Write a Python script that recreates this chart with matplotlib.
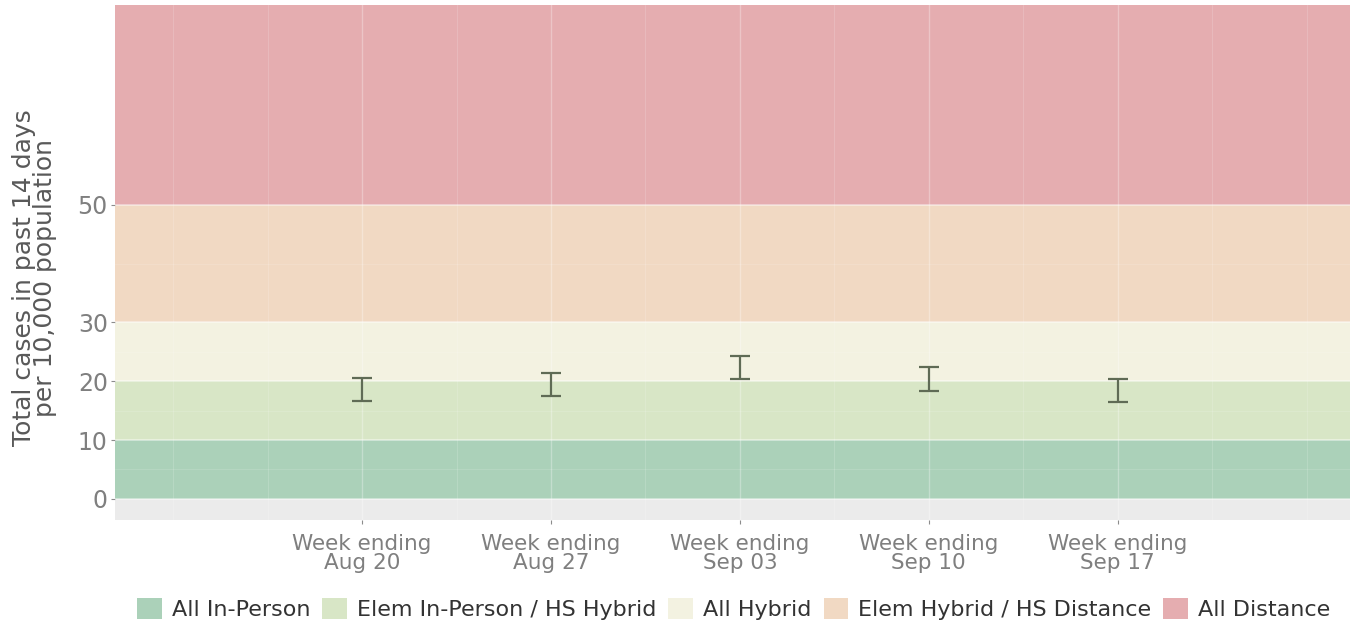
import matplotlib as mpl
import matplotlib.pyplot as plt
from matplotlib.patches import Patch
import numpy as np

mpl.rcParams["font.family"] = ["DejaVu Sans"]

# weeks and the error-bar range of cases per 10,000
weeks = ["Week ending\nAug 20", "Week ending\nAug 27", "Week ending\nSep 03",
         "Week ending\nSep 10", "Week ending\nSep 17"]
lower = [16.7, 17.5, 20.4, 18.4, 16.5]
upper = [20.6, 21.4, 24.3, 22.4, 20.4]

# reopening bands
band_names = ["All In-Person", "Elem In-Person / HS Hybrid", "All Hybrid",
              "Elem Hybrid / HS Distance", "All Distance"]
band_lo = [0, 10, 20, 30, 50]
band_hi = [10, 20, 30, 50, 84]
band_colors = ["#abd1b9", "#d8e6c6", "#f3f2e1", "#f1d9c3", "#e5adb0"]

yticks = [0, 10, 20, 30, 50]

fig = plt.figure(figsize=(13.5, 6.4), dpi=100)
ax = fig.add_axes([0.085, 0.1875, 0.915, 0.805])
ax.set_facecolor("#ebebeb")

x = np.arange(1, len(weeks) + 1)
for lo, hi, c in zip(band_lo, band_hi, band_colors):
    ax.axhspan(lo, hi, color=c, lw=0, zorder=1)

# ggplot-like grid showing faintly through the bands
for v in np.arange(0, 6.5, 0.5):
    major = float(v).is_integer() and 1 <= v <= 5
    ax.axvline(v, color="white", lw=1.0 if major else 0.6, alpha=0.3 if major else 0.18, zorder=2)
for v in yticks:
    ax.axhline(v, color="white", lw=1.2, alpha=0.5, zorder=2)
for v in [5, 15, 25, 40]:
    ax.axhline(v, color="white", lw=0.6, alpha=0.15, zorder=2)

mid = (np.array(lower) + np.array(upper)) / 2
err = (np.array(upper) - np.array(lower)) / 2
ax.errorbar(x, mid, yerr=err, fmt="none", ecolor="#5f6b55", elinewidth=1.6,
            capsize=7, capthick=1.6, zorder=3)

ax.set_xlim(-0.31, 6.23)
ax.set_ylim(-3.6, 84)
ax.set_xticks(x)
ax.set_xticklabels(weeks, fontsize=15.5, color="#7f7f7f", linespacing=0.95)
ax.set_yticks(yticks)
ax.set_yticklabels([str(t) for t in yticks], fontsize=17, color="#7f7f7f")
ax.tick_params(axis="both", length=3, color="#8c8c8c", pad=2)
ax.tick_params(axis="x", pad=7)
ax.set_ylabel("Total cases in past 14 days\nper 10,000 population", fontsize=18,
              color="#595959", linespacing=0.85)
ax.yaxis.set_label_coords(-0.047, 0.47)
for s in ax.spines.values():
    s.set_visible(False)

handles = [Patch(facecolor=c, edgecolor="none") for c in band_colors]
fig.legend(handles, band_names, loc="lower right", bbox_to_anchor=(1.0, 0.0),
           ncol=5, frameon=False, fontsize=16, handlelength=1.1, handleheight=1.1,
           handletextpad=0.45, columnspacing=0.55, labelcolor="#333333")

fig.savefig("out.png", dpi=100)
